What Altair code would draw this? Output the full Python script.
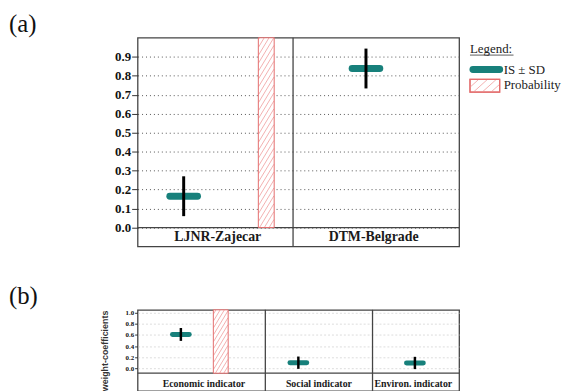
import altair as alt
import pandas as pd

# ---------------- values ----------------
panel_tags = ["(a)", "(b)"]

cats_a = ["LJNR-Zajecar", "DTM-Belgrade"]
col_edges_a = [0.0, 0.483, 1.0]        # column boundaries on panel x scale
marker_x_a = [0.132, 0.717]            # where each IS marker sits
is_a = [0.165, 0.838]
sd_a = [0.105, 0.105]
prob_a = [1.0, 0.0]
prob_x_a = [0.397, 0.0]
yticks_a = [0.0, 0.1, 0.2, 0.3, 0.4, 0.5, 0.6, 0.7, 0.8, 0.9]

cats_b = ["Economic indicator", "Social indicator", "Environ. indicator"]
col_edges_b = [0.0, 0.394, 0.738, 1.0]
marker_x_b = [0.123, 0.50, 0.874]
is_b = [0.61, 0.105, 0.10]
sd_b = [0.115, 0.11, 0.11]
prob_b = [1.0, 0.0, 0.0]
prob_x_b = [0.251, 0.0, 0.0]
yticks_b = [0.0, 0.2, 0.4, 0.6, 0.8, 1.0]
y_title_b = "weight-coefficients"

legend_title = "Legend:"
legend_labels = ["IS \u00b1 SD", "Probability"]

# ---------------- styles ----------------
TEAL = "#17807b"
RED = "#e36d6d"
HATCH = "#f3b0b0"
FRAME = "#444444"
SERIF = "Liberation Serif"
SANS = "Liberation Sans"


def hatch_calc(chart, w, s, gap, pxx, pxy):
    """diagonal hatch lines clipped to each bar (computed in pixel units)."""
    return (
        chart.transform_calculate(k="sequence(0, 80)")
        .transform_flatten(["k"])
        .transform_calculate(h=f"(datum.y1 - datum.y0) / {pxy}")
        .transform_calculate(c=f"{-s * w} + datum.k * {gap}")
        .transform_calculate(us=f"max(0, -datum.c / {s})")
        .transform_calculate(ue=f"min({w}, (datum.h - datum.c) / {s})")
        .transform_filter("datum.ue > datum.us")
        .transform_calculate(
            hx1=f"datum.x - {w / 2 * pxx} + datum.us * {pxx}",
            hx2=f"datum.x - {w / 2 * pxx} + datum.ue * {pxx}",
            hy1=f"datum.y0 + ({s} * datum.us + datum.c) * {pxy}",
            hy2=f"datum.y0 + ({s} * datum.ue + datum.c) * {pxy}",
        )
    )


def panel(tag, cats, edges, mx, isv, sdv, prob, px, yticks, ydom, floor, top,
          W, H, st, axis_extra):
    xs = alt.Scale(domain=[0, 1], nice=False, zero=False)
    ys = alt.Scale(domain=ydom, nice=False, zero=False)
    pxx = 1.0 / W
    pxy = (ydom[1] - ydom[0]) / H

    cols = pd.DataFrame({"cat": cats, "x0": edges[:-1], "x1": edges[1:]})
    cols["mid"] = (cols.x0 + cols.x1) / 2
    cols["ylab"] = st["label_y"]
    marks = pd.DataFrame({"cat": cats, "x": mx, "isv": isv, "sd": sdv})
    bars = pd.DataFrame({"cat": cats, "x": px, "p": prob})
    bars = bars[bars.p > 0].copy()
    bars["y0"] = floor
    bars["y1"] = floor + bars.p * (top - floor)

    axis = alt.Axis(values=yticks, format=".1f", domain=False, labelFont=SERIF,
                    labelFontWeight="bold", labelColor="#111", tickColor="#333",
                    **axis_extra)

    def Y(field):
        return alt.Y(field, scale=ys, axis=axis)

    def X(field):
        return alt.X(field, scale=xs, axis=None)

    base = alt.Chart(pd.DataFrame({"f": [floor]})).mark_rule(
        color=FRAME, strokeWidth=1.3).encode(
        x=alt.value(0), x2=alt.value(W), y=Y("f:Q"))

    div = alt.Chart(cols.iloc[:-1]).mark_rule(color=FRAME, strokeWidth=1.3).encode(
        x=X("x1:Q"), y=alt.value(0), y2=alt.value(H))

    bar_enc = dict(x=X("x:Q"), y=Y("y0:Q"), y2="y1:Q")
    barfill = alt.Chart(bars).mark_bar(size=st["bw"], fill="white").encode(**bar_enc)
    hatch = hatch_calc(alt.Chart(bars), st["bw"], st["slope"], st["gap"], pxx, pxy).mark_rule(
        color=HATCH, strokeWidth=1).encode(
        x=X("hx1:Q"), x2="hx2:Q", y=Y("hy1:Q"), y2="hy2:Q")
    barline = alt.Chart(bars).mark_bar(size=st["bw"], fillOpacity=0, stroke=RED,
                                       strokeWidth=1).encode(**bar_enc)

    teal = alt.Chart(marks).mark_point(
        shape="M-1,0L1,0", size=st["tsize"], strokeWidth=st["tw"], strokeCap="round",
        color=TEAL, filled=False, opacity=1).encode(x=X("x:Q"), y=Y("isv:Q"))
    err = alt.Chart(marks).transform_calculate(
        lo="datum.isv - datum.sd", hi="datum.isv + datum.sd").mark_rule(
        color="black", strokeWidth=st["ew"]).encode(x=X("x:Q"), y=Y("lo:Q"), y2="hi:Q")

    lab = alt.Chart(cols).mark_text(font=SERIF, fontWeight="bold", fontSize=st["lfs"],
                                    color="#1a1a1a").encode(
        x=X("mid:Q"), y=Y("ylab:Q"), text="cat:N")

    tagc = alt.Chart(pd.DataFrame({"t": [tag]})).mark_text(
        font=SERIF, fontSize=25, align="left", baseline="middle", color="#111").encode(
        x=alt.value(-130), y=alt.value(-14), text="t:N")

    return [base, div, barfill, hatch, barline, teal, err, lab, tagc]


st_a = dict(label_y=-0.05, bw=16, slope=1.6, gap=8, tsize=784, tw=7, ew=3, lfs=14)
st_b = dict(label_y=-0.274, bw=15, slope=1.6, gap=7, tsize=289, tw=5, ew=2.5, lfs=10)

layers_a = panel(panel_tags[0], cats_a, col_edges_a, marker_x_a, is_a, sd_a, prob_a,
                 prob_x_a, yticks_a, [-0.1, 1.0], 0.0, 1.0, 325, 211, st_a,
                 dict(labelFontSize=13, tickSize=6, labelPadding=1, grid=True,
                      gridColor="#555", gridDash=[1, 3], gridWidth=1, title=None))

# ---- legend (panel a), placed to the right of the plot ----
leg_df = pd.DataFrame({"t": [legend_title]})
leg_title = alt.Chart(leg_df).mark_text(font=SERIF, fontSize=13, align="left",
                                        baseline="middle", color="#222").encode(
    x=alt.value(336), y=alt.value(11), text="t:N")
leg_ul = alt.Chart(leg_df).mark_rule(color="#333", strokeWidth=0.8).encode(
    x=alt.value(336), x2=alt.value(380), y=alt.value(17.5))
leg_line = alt.Chart(leg_df).mark_rule(color=TEAL, strokeWidth=7, strokeCap="round").encode(
    x=alt.value(339), x2=alt.value(366), y=alt.value(32))
leg_items = pd.DataFrame({"t": legend_labels, "ly": [33, 48]})
leg_text = alt.Chart(leg_items).mark_text(font=SERIF, fontSize=13, align="left",
                                          baseline="middle", color="#222").encode(
    x=alt.value(370), y=alt.Y("ly:Q", scale=None), text="t:N")
box = pd.DataFrame({"bx0": [336], "bx1": [366], "by0": [42], "by1": [55]})
leg_box = alt.Chart(box).mark_rect(fill="white", stroke=RED, strokeWidth=1.2).encode(
    x=alt.X("bx0:Q", scale=None), x2="bx1:Q", y=alt.Y("by0:Q", scale=None), y2="by1:Q")
s_l, w_l, g_l = 0.9, 30, 8
leg_hatch = (
    alt.Chart(box)
    .transform_calculate(k="sequence(0, 12)")
    .transform_flatten(["k"])
    .transform_calculate(h="datum.by1 - datum.by0")
    .transform_calculate(c=f"{-s_l * w_l} + datum.k * {g_l}")
    .transform_calculate(us=f"max(0, -datum.c / {s_l})")
    .transform_calculate(ue=f"min({w_l}, (datum.h - datum.c) / {s_l})")
    .transform_filter("datum.ue > datum.us")
    .transform_calculate(
        lx1="datum.bx0 + datum.us", lx2="datum.bx0 + datum.ue",
        ly1=f"datum.by1 - ({s_l} * datum.us + datum.c)",
        ly2=f"datum.by1 - ({s_l} * datum.ue + datum.c)")
    .mark_rule(color=HATCH, strokeWidth=1)
    .encode(x=alt.X("lx1:Q", scale=None), x2="lx2:Q",
            y=alt.Y("ly1:Q", scale=None), y2="ly2:Q")
)
leg_box2 = alt.Chart(box).mark_rect(fillOpacity=0, stroke=RED, strokeWidth=1.2).encode(
    x=alt.X("bx0:Q", scale=None), x2="bx1:Q", y=alt.Y("by0:Q", scale=None), y2="by1:Q")

panel_a = alt.layer(*layers_a, leg_title, leg_ul, leg_line, leg_text, leg_box,
                    leg_hatch, leg_box2).properties(width=325, height=211)

layers_b = panel(panel_tags[1], cats_b, col_edges_b, marker_x_b, is_b, sd_b, prob_b,
                 prob_x_b, yticks_b, [-0.40, 1.05], -0.083, 1.05, 325, 82, st_b,
                 dict(labelFontSize=7, tickSize=3, labelPadding=1, grid=True,
                      gridColor="#d4d4d4", gridDash=[2, 2], gridWidth=0.8,
                      title=y_title_b, titleFont=SANS, titleFontWeight="bold",
                      titleFontSize=9, titleColor="#333", titlePadding=16))
panel_b = alt.layer(*layers_b).properties(width=325, height=82)

chart = (
    alt.vconcat(panel_a, panel_b, spacing=35)
    .properties(padding={"left": 0, "top": 1, "right": 0, "bottom": 0},
                background="white")
    .configure_view(stroke=FRAME, strokeWidth=1.3)
)

chart.save("out.html", embed_options={"renderer": "svg", "actions": False})
